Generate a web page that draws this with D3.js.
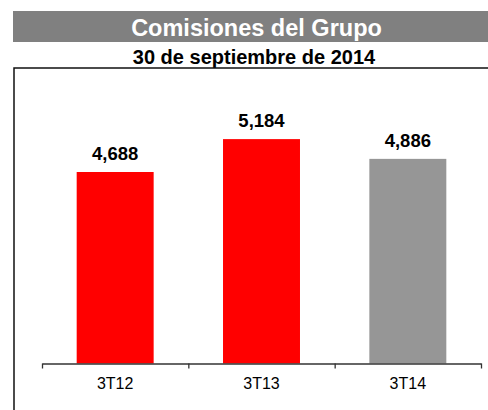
<!DOCTYPE html>
<html>
<head>
<meta charset="utf-8">
<script src="https://cdn.jsdelivr.net/npm/d3@7"></script>
<style>
  html, body { margin: 0; padding: 0; background: #fff; }
  svg { display: block; font-family: "Liberation Sans", Arial, sans-serif; }
</style>
</head>
<body>
<div id="chart"></div>
<script>
const title = "Comisiones del Grupo";
const subtitle = "30 de septiembre de 2014";
const categories = ["3T12", "3T13", "3T14"];
const values = [4688, 5184, 4886];
const yDomain = [1800, 6000];

const W = 488, H = 410;
const svg = d3.select("#chart").append("svg").attr("width", W).attr("height", H);

// header band
svg.append("rect").attr("x", 13).attr("y", 11).attr("width", W - 13).attr("height", 31).attr("fill", "#808080");
svg.append("text").attr("x", 256.5).attr("y", 36).attr("text-anchor", "middle")
  .attr("fill", "#fff").attr("font-weight", "bold").attr("font-size", 23.5).text(title);
svg.append("text").attr("x", 254).attr("y", 64).attr("text-anchor", "middle")
  .attr("fill", "#000").attr("font-weight", "bold").attr("font-size", 20).text(subtitle);

// frame (top and left borders)
svg.append("path").attr("d", `M14,${H} L14,68 L${W},68`).attr("fill", "none")
  .attr("stroke", "#111").attr("stroke-width", 1.5);

const x0 = 42, x1 = 481, yBase = 363.5, yTop = 85;
const x = d3.scaleBand().domain(categories).range([x0, x1]).paddingInner(0.474).paddingOuter(0.237);
const y = d3.scaleLinear().domain(yDomain).range([yBase, yTop]);
const color = d3.scaleOrdinal().domain(categories).range(["#ff0000", "#ff0000", "#969696"]);

const data = categories.map((c, i) => ({ c, v: values[i] }));

svg.append("g").selectAll("rect").data(data).join("rect")
  .attr("x", d => x(d.c)).attr("width", x.bandwidth())
  .attr("y", d => y(d.v)).attr("height", d => yBase - y(d.v))
  .attr("fill", d => color(d.c));

svg.append("g").selectAll("text").data(data).join("text")
  .attr("x", d => x(d.c) + x.bandwidth() / 2).attr("y", d => y(d.v) - 12)
  .attr("text-anchor", "middle").attr("font-weight", "bold").attr("font-size", 18.5)
  .attr("fill", "#000")
  .text(d => d3.format(",")(d.v));

// axis line with boundary ticks
const idx = d3.scaleLinear().domain([0, categories.length]).range([x0, x1]);
const gAxis = svg.append("g").attr("transform", `translate(0,${yBase})`)
  .call(d3.axisBottom(idx).tickValues(d3.range(categories.length + 1)).tickFormat("").tickSize(5).tickSizeOuter(0));
gAxis.select(".domain").attr("stroke", "#333").attr("stroke-width", 1.3);
gAxis.selectAll(".tick line").attr("stroke", "#333").attr("stroke-width", 1.3);

const gLab = svg.append("g").attr("transform", `translate(0,${yBase})`)
  .call(d3.axisBottom(x).tickSize(0).tickPadding(14));
gLab.select(".domain").remove();
gLab.selectAll("text").attr("font-size", 16).attr("fill", "#000")
  .attr("font-family", "Liberation Sans, Arial, sans-serif");
</script>
</body>
</html>
